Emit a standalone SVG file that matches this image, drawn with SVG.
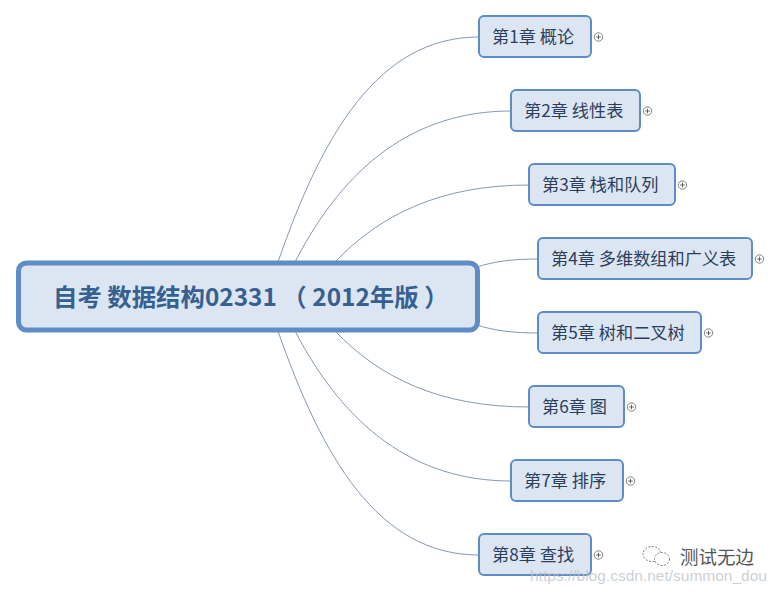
<svg xmlns="http://www.w3.org/2000/svg" width="780" height="592" viewBox="0 0 780 592">
<defs>
<style>
.n rect{fill:#dce6f3;stroke:#5d8cc6;stroke-width:2}
.n text{font:17.200px "Noto Sans CJK SC","Noto Sans",sans-serif;fill:#2b3f5c}
#root rect{stroke-width:5}
#root text{font-size:24.400px;font-weight:700;fill:#36608f}
.c path{fill:none;stroke:#8499b0;stroke-width:1}
.p circle{fill:#fff;stroke:#666;stroke-width:.8}
.p path{stroke:#444;stroke-width:.8;fill:none}
</style>
<g id="plus" class="p"><circle r="4.200"/><path d="M-2.300 0H2.300M0-2.300V2.300"/></g>
</defs>
<rect width="780" height="592" fill="#fff"/>
<g id="connectors" class="c">
<path d="M278 262C322 135 378 37 479 37"/>
<path d="M295 262C345 165 415 111 511 111"/>
<path d="M335 262C380 215 440 185 529 185"/>
<path d="M477 267C495 261 515 259 538 259"/>
<path d="M477 325C495 331 515 333 538 333"/>
<path d="M335 331C380 378 440 407 529 407"/>
<path d="M295 331C345 427 415 481 511 481"/>
<path d="M278 331C322 457 378 555 479 555"/>
</g>
<g id="root" class="n"><rect x="18.500" y="263" width="459" height="67" rx="8"/><text x="53" y="306">自考 数据结构02331 （ 2012年版 ）</text></g>
<g id="n1" class="n"><rect x="479" y="16" width="112" height="41" rx="5"/><text x="492" y="43">第1章 概论</text><use href="#plus" x="598.500" y="37"/></g>
<g id="n2" class="n"><rect x="511" y="90" width="129" height="41" rx="5"/><text x="524" y="117">第2章 线性表</text><use href="#plus" x="647.500" y="111"/></g>
<g id="n3" class="n"><rect x="529" y="164" width="146" height="41" rx="5"/><text x="542" y="191">第3章 栈和队列</text><use href="#plus" x="682.500" y="185"/></g>
<g id="n4" class="n"><rect x="538" y="238" width="214" height="41" rx="5"/><text x="551" y="265">第4章 多维数组和广义表</text><use href="#plus" x="759.500" y="259"/></g>
<g id="n5" class="n"><rect x="538" y="312" width="163" height="41" rx="5"/><text x="551" y="339">第5章 树和二叉树</text><use href="#plus" x="708.500" y="333"/></g>
<g id="n6" class="n"><rect x="529" y="386" width="95" height="41" rx="5"/><text x="542" y="413">第6章 图</text><use href="#plus" x="631.500" y="407"/></g>
<g id="n7" class="n"><rect x="511" y="460" width="112" height="41" rx="5"/><text x="524" y="487">第7章 排序</text><use href="#plus" x="630.500" y="481"/></g>
<g id="n8" class="n"><rect x="479" y="534" width="112" height="41" rx="5"/><text x="492" y="561">第8章 查找</text><use href="#plus" x="598.500" y="555"/></g>
<g id="watermark">
<g fill="#fff" stroke="#777" stroke-width="1" stroke-dasharray="2 1.500"><ellipse cx="652" cy="554" rx="9" ry="7.500"/><ellipse cx="662" cy="559" rx="7.500" ry="6.500"/></g>
<text x="680" y="564" font-family="'Noto Sans CJK SC',sans-serif" font-size="18.500" fill="#555">测试无边</text>
<text x="530" y="581" font-family="'Liberation Sans',sans-serif" font-size="15.500" fill="#b8c0c8" fill-opacity=".75">https://blog.csdn.net/summon_dou</text>
</g>
</svg>
